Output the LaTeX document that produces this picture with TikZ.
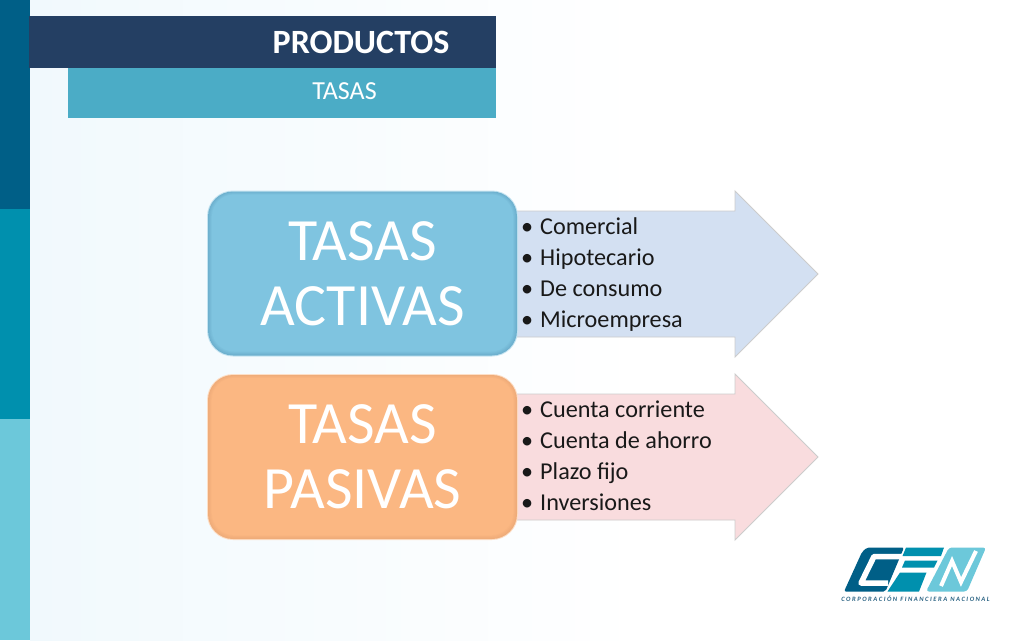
\documentclass[tikz,border=0pt]{standalone}
\usepackage{fontspec}
\setmainfont{Carlito}
\definecolor{barA}{HTML}{005F87}
\definecolor{barB}{HTML}{0090AE}
\definecolor{barC}{HTML}{6CC8DA}
\definecolor{navy}{HTML}{243F63}
\definecolor{teal}{HTML}{4BACC6}
\definecolor{boxblue}{HTML}{7FC4E0}
\definecolor{boxblueedge}{HTML}{6DB0CE}
\definecolor{boxorange}{HTML}{FBB782}
\definecolor{boxorangeedge}{HTML}{EFAC79}
\definecolor{arrblue}{HTML}{D3E0F2}
\definecolor{arrpink}{HTML}{F9DCDE}
\definecolor{bgpale}{HTML}{F1F9FD}
\definecolor{corpink}{HTML}{2C6484}
\tikzset{
 x=1pt,y=-1pt,
 bigbox/.style={rounded corners=24pt,minimum width=304pt,minimum height=158pt,inner sep=0pt,align=center,text=white,font=\fontsize{60}{65}\selectfont},
 listtext/.style={anchor=west,align=left,font=\fontsize{24.2}{31}\selectfont,text=black!90,inner sep=0pt},
 arrowshape/.style={line width=0.9pt},
}
\newcommand{\blist}[4]{\begin{tabular}{@{}l@{}l@{}}\makebox[19pt][l]{•}&#1\\\makebox[19pt][l]{•}&#2\\\makebox[19pt][l]{•}&#3\\\makebox[19pt][l]{•}&#4\end{tabular}}
\newcommand{\bevel}[5]{% cx, cy, edge colour, fill colour, outer glow
  \fill[#5,rounded corners=26pt] (#1-155.5,#2-83) rectangle (#1+155.5,#2+83);
  \foreach \i in {0,...,5}{
    \pgfmathsetmacro{\mixv}{\i*20}
    \fill[#4!\mixv!#3,rounded corners={25-\i*0.6 pt}] (#1-154.5+\i*0.8,#2-82+\i*0.6) rectangle (#1+154.5-\i*0.8,#2+82-\i*0.8);
  }
}
\begin{document}
\begin{tikzpicture}
\useasboundingbox (0,0) rectangle (1024,640);
\fill[white] (0,0) rectangle (1024,640);
% pale background
\shade[left color=bgpale,right color=white] (30,0) rectangle (640,640);
% left bar
\fill[barA] (0,0) rectangle (30,209);
\fill[barB] (0,209) rectangle (30,419);
\fill[barC] (0,419) rectangle (30,640);
% header
\fill[teal] (68,68) rectangle (496,118);
\fill[navy] (29,16) rectangle (496,68);
\node[font=\fontsize{34}{38}\selectfont\bfseries,text=white,inner sep=0pt] (title) at (361,42.5) {PRODUCTOS};
\node[font=\fontsize{26}{30}\selectfont,text=white,inner sep=0pt] (sub) at (344.5,91) {TASAS};
% arrows
\draw[arrowshape,draw=black!20,fill=arrblue] (500,211) -- (735,211) -- (735,191) -- (818,274) -- (735,357) -- (735,337) -- (500,337) -- cycle;
\draw[arrowshape,draw=black!20,fill=arrpink] (500,394) -- (735,394) -- (735,374) -- (818,457) -- (735,540) -- (735,520) -- (500,520) -- cycle;
% boxes
\bevel{362.5}{273.5}{boxblueedge}{boxblue}{boxblue!45!white}
\bevel{362.5}{457}{boxorangeedge}{boxorange}{boxorange!45!white}
\node[bigbox] (activas) at (362.5,273.5) {TASAS\\ACTIVAS};
\node[bigbox] (pasivas) at (362.5,457) {TASAS\\PASIVAS};
\node[listtext] (l1) at (521,274.5) {\blist{Comercial}{Hipotecario}{De consumo}{Microempresa}};
\node[listtext] (l2) at (521,457.5) {\blist{Cuenta corriente}{Cuenta de ahorro}{Plazo fijo}{Inversiones}};
% logo: C
\fill[barA,rounded corners=2pt] (867,547.5) -- (904,547.5) -- (885.5,591.5) -- (844,591.5) -- (862,552) -- cycle;
\draw[white,line width=5.5pt,line join=round] (902,556.5) -- (874,556.5) -- (861,583) -- (888,583);
% logo: F
\fill[barB] (906,547.5) -- (944,547.5) -- (941,556) -- (902.5,556) -- cycle;
\fill[barB] (905,560.5) -- (937.5,560.5) -- (934,567.5) -- (902,567.5) -- cycle;
\fill[barB] (900,572.5) -- (926.5,572.5) -- (919,591.5) -- (887.5,591.5) -- cycle;
% logo: N
\fill[barC,rounded corners=3pt] (949,547.5) -- (986,547.5) -- (967,591.5) -- (926,591.5) -- cycle;
\draw[white,line width=4pt,line join=miter] (941,586) -- (952,561) -- (961,582) -- (976,551);
\node[font=\fontsize{6.6}{7}\selectfont\bfseries\itshape,text=corpink,inner sep=0pt] (corp) at (915.5,599) {C O R P O R A C I Ó N\ \ F I N A N C I E R A\ \ N A C I O N A L};
\end{tikzpicture}
\end{document}
